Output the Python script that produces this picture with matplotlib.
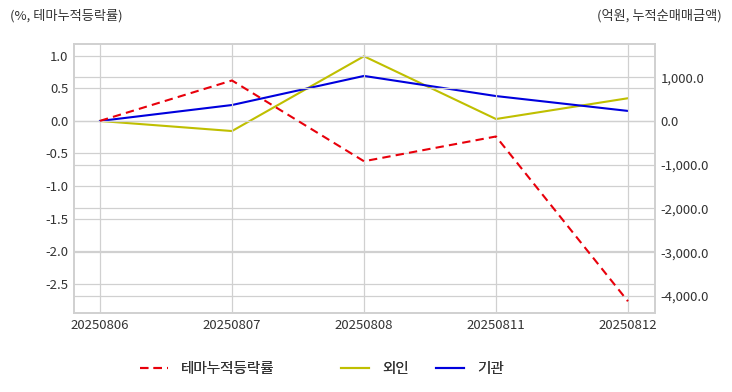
import matplotlib
matplotlib.use("Agg")
import matplotlib.pyplot as plt
from matplotlib.ticker import FuncFormatter

plt.rcParams['font.family'] = ['Noto Sans CJK KR', 'DejaVu Sans']

# 데이터
dates = ["20250806", "20250807", "20250808", "20250811", "20250812"]
theme_rate = [0.0, 0.62, -0.62, -0.24, -2.77]       # 테마누적등락률 (%)
foreign_amt = [0.0, -230.0, 1480.0, 45.0, 520.0]    # 외인 (억원)
inst_amt = [0.0, 365.0, 1030.0, 570.0, 230.0]       # 기관 (억원)

grid_c = "#d0d0d0"
text_c = "#333333"

fig = plt.figure(figsize=(7.32, 3.92), dpi=100)
ax = fig.add_axes([74 / 732, 1 - 313 / 392, (655 - 74) / 732, (313 - 44) / 392])
ax2 = ax.twinx()

x = list(range(len(dates)))
l1, = ax.plot(x, theme_rate, color="#e8000b", linestyle=(0, (4, 2.5)), linewidth=1.5, label="테마누적등락률")
l2, = ax2.plot(x, foreign_amt, color="#bfbf00", linewidth=1.5, label="외인")
l3, = ax2.plot(x, inst_amt, color="#0000dd", linewidth=1.5, label="기관")

ax.set_xlim(-0.197, 4.205)
ax.set_ylim(-2.95, 1.18)
ax2.set_ylim(-4390, 1760)

ax.set_yticks([1.0, 0.5, 0.0, -0.5, -1.0, -1.5, -2.0, -2.5])
ax.yaxis.set_major_formatter(FuncFormatter(lambda v, p: f"{v:.1f}"))
ax2.set_yticks([1000, 0, -1000, -2000, -3000, -4000])
ax2.yaxis.set_major_formatter(FuncFormatter(lambda v, p: f"{v:,.1f}"))
ax.set_xticks(x)
ax.set_xticklabels(dates)

for a in (ax, ax2):
    a.tick_params(length=0, labelsize=9.5, colors=text_c, pad=4)
    for s in a.spines.values():
        s.set_color(grid_c)
        s.set_linewidth(1.2)
ax.grid(True, color=grid_c, linewidth=0.9)
ax2.grid(True, axis="y", color=grid_c, linewidth=0.9)
ax.set_axisbelow(True)
ax2.set_axisbelow(True)
ax.set_zorder(ax2.get_zorder() + 1)
ax.patch.set_visible(False)

fig.text(10 / 732, 1 - 16 / 392, "(%, 테마누적등락률)", fontsize=9.5, color=text_c, va="center", ha="left")
fig.text(722 / 732, 1 - 16 / 392, "(억원, 누적순매매금액)", fontsize=9.5, color=text_c, va="center", ha="right")

# 범례: 항목별로 위치 지정
for handle, left in [(l1, 127), (l2, 328), (l3, 423)]:
    leg = fig.legend(handles=[handle], loc="center left",
                     bbox_to_anchor=(left / 732, 1 - 369 / 392),
                     frameon=False, fontsize=10.5, handlelength=1.9,
                     handletextpad=0.9, labelcolor=text_c)
    fig.add_artist(leg)

fig.savefig("out.png", dpi=100)
